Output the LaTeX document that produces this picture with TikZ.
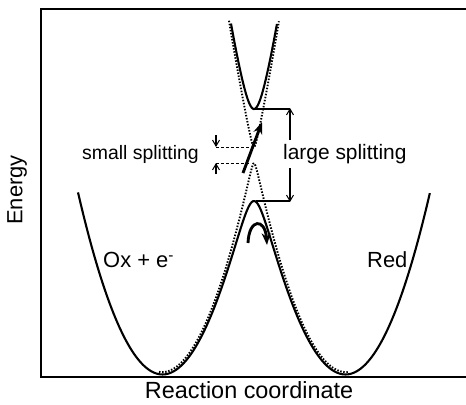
\documentclass[tikz,border=0pt]{standalone}
\usepackage{fontspec}
\setmainfont{Liberation Sans}
\usetikzlibrary{arrows.meta}
\begin{document}
\begin{tikzpicture}[x=1bp,y=-1bp,
  axisline/.style={line width=1.7},
  curve/.style={line width=2.1},
  dotcurve/.style={line width=1.9,dash pattern=on 1.5 off 1.6},
  dashline/.style={line width=0.9,dash pattern=on 3 off 2},
  thinline/.style={line width=1.1},
  barb/.style={-{Straight Barb[length=6,width=7,line width=1]}},
  bold/.style={line width=2.9,-{Stealth[length=12,width=9]}},
  lbl/.style={inner sep=0, font=\fontsize{21}{24}\selectfont}]
\useasboundingbox (0,0) rectangle (466,404);
% axes
\coordinate (tr) at (466,9);
\coordinate (tl) at (41,9);
\coordinate (bl) at (41,377);
\coordinate (br) at (466,377);
\draw[axisline] (tr) -- (tl) -- (bl) -- (br);
% dotted (small splitting) curves
\draw[dotcurve] plot[variable=\t,domain=-0.95:0.95,samples=150]
  ({254+100*\t},{372-256.4*(\t*\t+0.8464)+100*sqrt((4.718*\t)^2+0.0064)});
\draw[dotcurve] plot[variable=\t,domain=-0.25:0.25,samples=80]
  ({254+100*\t},{372-256.4*(\t*\t+0.8464)-100*sqrt((4.718*\t)^2+0.0064)});
% solid (large splitting) curves
\draw[curve] plot[variable=\t,domain=-1.76:1.76,samples=250]
  ({254+100*\t},{372-256.4*(\t*\t+0.8464)+100*sqrt((4.718*\t)^2+0.2116)});
\draw[curve] plot[variable=\t,domain=-0.23:0.23,samples=80]
  ({254+100*\t},{372-256.4*(\t*\t+0.8464)-100*sqrt((4.718*\t)^2+0.2116)});
% large splitting
\coordinate (umin) at (254,109);
\coordinate (lmax) at (256,201);
\coordinate (ur) at (290,109);
\coordinate (lr) at (290,201);
\draw[thinline] (umin) -- (ur);
\draw[thinline] (lmax) -- (lr);
\node[lbl,anchor=west] (large) at (283,154) {large splitting};
\coordinate (la1) at (290,140);
\coordinate (la2) at (290,168);
\draw[thinline,barb] (la1) -- ([yshift=1]ur);
\draw[thinline,barb] (la2) -- ([yshift=-1]lr);
% small splitting
\coordinate (s1a) at (216,147);
\coordinate (s1b) at (250,147);
\coordinate (s2a) at (216,163);
\coordinate (s2b) at (250,163);
\draw[dashline] (s1a) -- (s1b);
\draw[dashline] (s2a) -- (s2b);
\coordinate (sa1) at (216,135);
\coordinate (sa2) at (216,174);
\draw[thinline,barb] (sa1) -- (s1a);
\draw[thinline,barb] (sa2) -- (s2a);
\node[lbl,anchor=east,font=\fontsize{19.5}{22}\selectfont] (small) at (199,154) {small splitting};
% bold arrows
\coordinate (b1) at (243,173);
\coordinate (b2) at (262,122);
\draw[bold] (b1) -- (b2);
\coordinate (c1) at (248,243);
\coordinate (c2) at (267,245);
\draw[bold] (c1) .. controls (249,218) and (265,218) .. (c2);
% labels
\node[lbl,anchor=west,font=\fontsize{22}{24}\selectfont] (ox) at (103,260) {Ox + e\textsuperscript{-}};
\node[lbl,anchor=west,font=\fontsize{22}{24}\selectfont] (red) at (367,260) {Red};
\node[lbl,rotate=90,font=\fontsize{22}{24}\selectfont] (energy) at (17,190) {Energy};
\node[lbl,font=\fontsize{23.5}{26}\selectfont] (rc) at (249,390) {Reaction coordinate};
\end{tikzpicture}
\end{document}
